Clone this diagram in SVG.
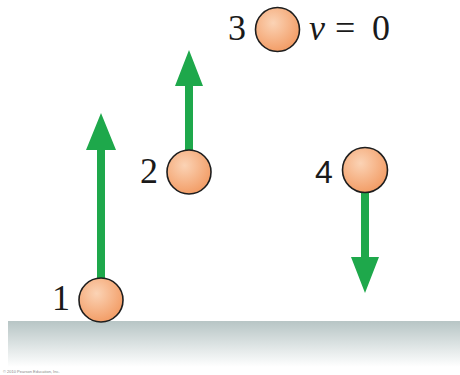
<svg xmlns="http://www.w3.org/2000/svg" width="460" height="375" viewBox="0 0 460 375">
<defs>
<radialGradient id="ball" cx="0.4" cy="0.35" r="0.7">
<stop offset="0" stop-color="#fbd3b5"/>
<stop offset="1" stop-color="#f29a62"/>
</radialGradient>
<linearGradient id="ground" x1="0" y1="0" x2="0" y2="1">
<stop offset="0" stop-color="#b7c5c5"/>
<stop offset="1" stop-color="#ffffff"/>
</linearGradient>
<style>
.ball{fill:url(#ball);stroke:#1e1e1e;stroke-width:1.6}
.arr{fill:#1ea84b}
.lbl{font-family:"Liberation Serif",serif;font-size:36px;fill:#1a1a1a}
</style>
</defs>
<rect width="460" height="375" fill="#ffffff"/>
<rect x="8" y="321" width="452" height="46" fill="url(#ground)"/>
<text x="3" y="373" font-family="Liberation Sans,sans-serif" font-size="4" fill="#888">© 2010 Pearson Education, Inc.</text>
<g id="connectors">
<polygon class="arr" points="97,280 105,280 105,150 116,150 101,113 86,150 97,150"/>
<polygon class="arr" points="185,152 193,152 193,86 203,86 189,50 175,86 185,86"/>
<polygon class="arr" points="361,190 369,190 369,257 379,257 365,293 351,257 361,257"/>
</g>
<g id="ball1">
<circle class="ball" cx="101" cy="300" r="22"/>
<text class="lbl" x="52" y="310">1</text>
</g>
<g id="ball2">
<circle class="ball" cx="189" cy="172" r="22"/>
<text class="lbl" x="140" y="183">2</text>
</g>
<g id="ball3">
<circle class="ball" cx="277.5" cy="29.5" r="22"/>
<text class="lbl" x="228" y="40">3</text>
<text class="lbl" x="309" y="40" font-style="italic">v</text>
<text class="lbl" x="335" y="40" font-size="41">=</text>
<text class="lbl" x="372" y="40">0</text>
</g>
<g id="ball4">
<circle class="ball" cx="365" cy="170" r="22.5"/>
<text x="315" y="183" font-family="Liberation Sans,sans-serif" font-size="32" fill="#1a1a1a">4</text>
</g>
</svg>
